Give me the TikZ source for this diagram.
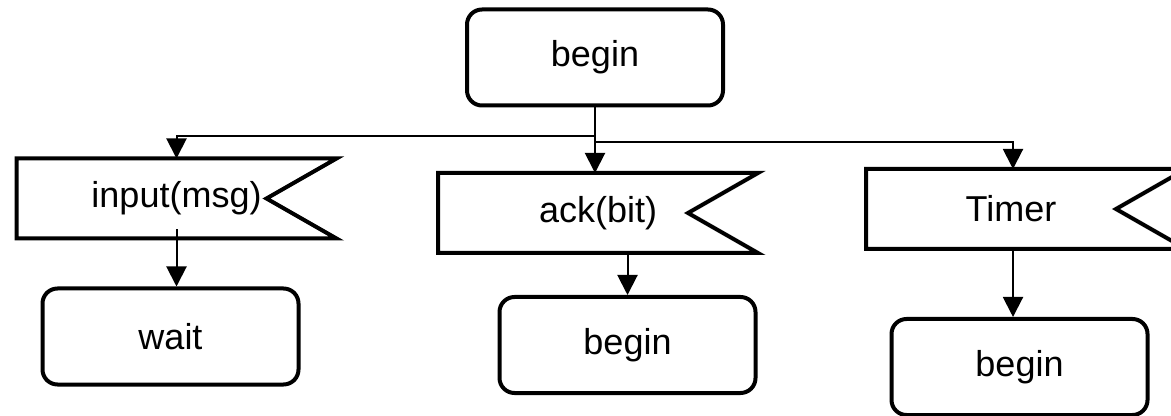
\documentclass[tikz,border=0pt]{standalone}
\usepackage{fontspec}
\setmainfont{Liberation Sans}
\usetikzlibrary{arrows.meta, calc}

\begin{document}
\begin{tikzpicture}[
    x=0.5pt, y=-0.5pt,
    state/.style={
        rectangle, rounded corners=7.5pt, draw=black, line width=2pt,
        minimum width=128pt, minimum height=48pt, inner sep=0pt,
        font=\fontsize{18}{20}\selectfont
    },
    flag/.style={
        rectangle, minimum width=160pt, minimum height=40pt,
        inner sep=0pt, outer sep=0pt,
        font=\fontsize{18}{20}\selectfont,
        append after command={\pgfextra{
            \draw[line width=2pt, line join=miter]
                (\tikzlastnode.north west) -- (\tikzlastnode.north east)
                -- ([xshift=-35pt]\tikzlastnode.east)
                -- (\tikzlastnode.south east)
                -- (\tikzlastnode.south west) -- cycle;
        }}
    },
    link/.style={-{Triangle[length=10pt, width=10pt]}, line width=1pt}
]
\useasboundingbox (0,0) rectangle (1171,416);
\clip (0,0) rectangle (1171,416);

% start state
\node[state] (top) at (595,57.5) {begin};

% incoming signals
\node[flag] (in)    at (176.5,198.5) {input(msg)};
\node[flag] (ack)   at (598,213)     {ack(bit)};
\node[flag] (timer) at (1026,209)    {Timer\hspace*{15pt}};

% next states
\node[state] (wait) at (170.5,336.5) {wait};
\node[state] (b2)   at (627.5,345)   {begin};
\node[state] (b3)   at (1019.5,367)  {begin};

% fan out from the start state
\draw[link] (top.south) -- (top.south |- ack.north);
\draw[link] (top.south) -- ++(0,29) -| (in.north);
\draw[link] (top.south) -- ++(0,35) -| ([xshift=-6.5pt]timer.north);

% signal -> next state
\draw[link] ([yshift=4.5pt]in.south) -- (in.south |- wait.north);
\draw[link] (b2.north |- ack.south) -- (b2.north);
\draw[link] ([xshift=-6.5pt]timer.south) -- ([xshift=-6.5pt]timer.south |- b3.north);

\end{tikzpicture}
\end{document}
